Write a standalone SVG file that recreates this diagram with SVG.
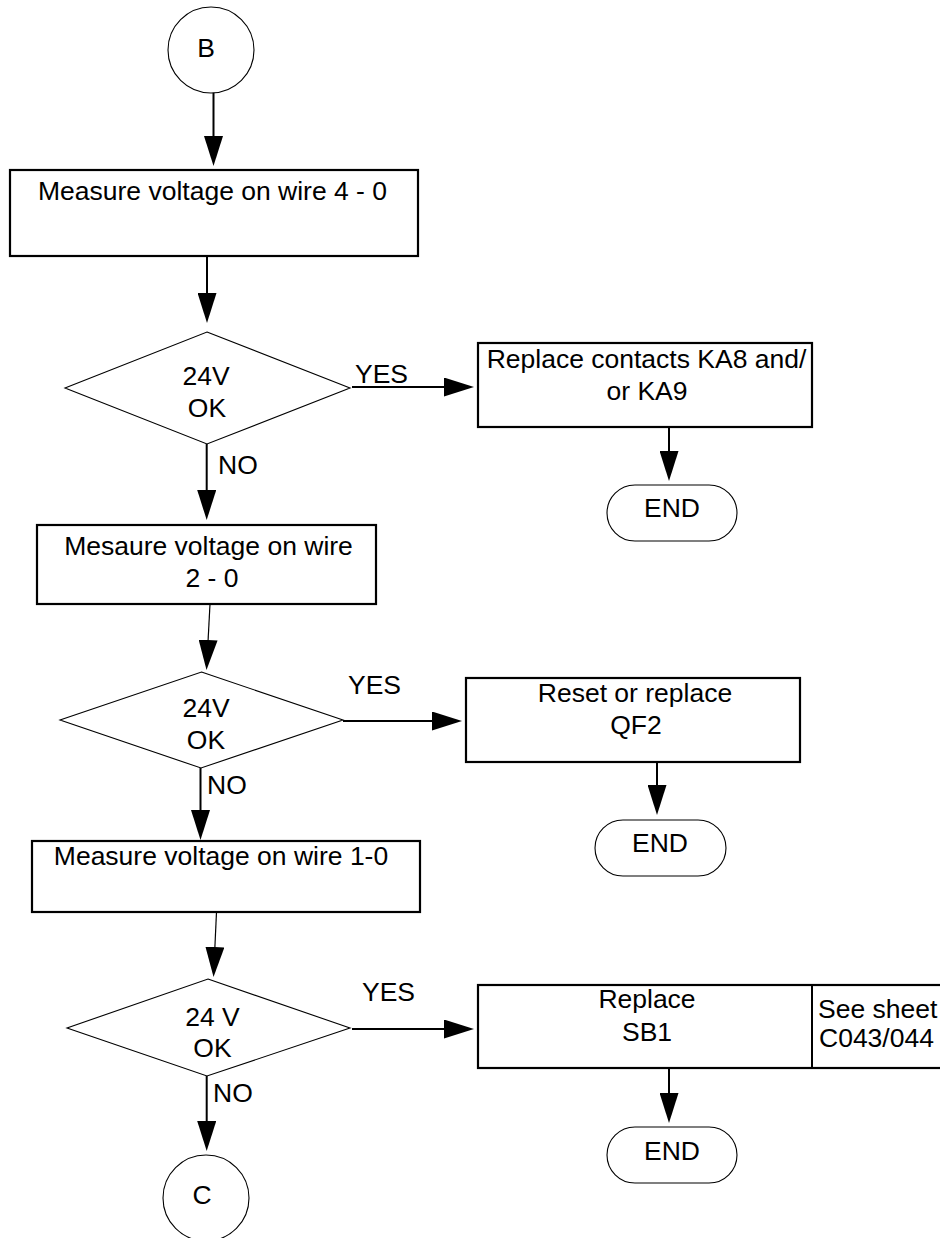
<svg xmlns="http://www.w3.org/2000/svg" width="940" height="1238" viewBox="0 0 940 1238">
<style>
text{font-family:"Liberation Sans",Arial,sans-serif;font-size:26.5px;fill:#000}
.m{text-anchor:middle}
.box{fill:#fff;stroke:#000;stroke-width:2.2}
.thin{fill:#fff;stroke:#000;stroke-width:1.1}
.c{stroke:#000;stroke-width:2;fill:none}
.c1{stroke:#000;stroke-width:1.2;fill:none}
</style>
<defs>
<marker id="ah" markerUnits="userSpaceOnUse" markerWidth="30" markerHeight="19" refX="0" refY="9.5" orient="auto" viewBox="0 0 30 19">
<path d="M0,0 L30,9.5 L0,19 z" fill="#000"/>
</marker>
</defs>
<rect width="940" height="1238" fill="#fff"/>
<g id="connectors">
<line class="c" x1="213.5" y1="92" x2="213.5" y2="136" marker-end="url(#ah)"/>
<line class="c" x1="207" y1="256" x2="207" y2="293" marker-end="url(#ah)"/>
<line class="c" x1="352" y1="387" x2="444" y2="387" marker-end="url(#ah)"/>
<line class="c" x1="669" y1="427" x2="669" y2="451" marker-end="url(#ah)"/>
<line class="c" x1="206.7" y1="444" x2="206.7" y2="490" marker-end="url(#ah)"/>
<line class="c1" x1="210" y1="604" x2="208.1" y2="640" marker-end="url(#ah)"/>
<line class="c" x1="343" y1="721" x2="432" y2="721" marker-end="url(#ah)"/>
<line class="c" x1="657" y1="762" x2="657" y2="785" marker-end="url(#ah)"/>
<line class="c" x1="200.5" y1="768" x2="200.5" y2="810" marker-end="url(#ah)"/>
<line class="c1" x1="216.5" y1="912" x2="214.9" y2="947" marker-end="url(#ah)"/>
<line class="c" x1="352" y1="1029" x2="444" y2="1029" marker-end="url(#ah)"/>
<line class="c" x1="669" y1="1068" x2="669" y2="1093" marker-end="url(#ah)"/>
<line class="c" x1="206.7" y1="1076" x2="206.7" y2="1121" marker-end="url(#ah)"/>
<text x="355" y="383">YES</text>
<text x="218" y="474">NO</text>
<text x="348" y="694">YES</text>
<text x="207" y="794">NO</text>
<text x="362" y="1001">YES</text>
<text x="213" y="1102">NO</text>
</g>
<g id="startB">
<circle class="thin" cx="211" cy="50" r="43"/>
<text class="m" x="206" y="57">B</text>
</g>
<g id="measure40">
<rect class="box" x="10" y="170" width="408" height="86"/>
<text class="m" x="212.5" y="200">Measure voltage on wire 4 - 0</text>
</g>
<g id="check1">
<polygon class="thin" points="207,332 350,388 207,444 65,388"/>
<text class="m" x="206" y="385">24V</text>
<text class="m" x="207" y="417">OK</text>
</g>
<g id="replaceKA">
<rect class="box" x="478" y="343" width="334" height="84"/>
<text class="m" x="646.5" y="368">Replace contacts KA8 and/</text>
<text class="m" x="647" y="400">or KA9</text>
</g>
<g id="end1">
<rect class="thin" x="607" y="485" width="130" height="56" rx="28" ry="28"/>
<text class="m" x="672" y="517">END</text>
</g>
<g id="measure20">
<rect class="box" x="37" y="525" width="339" height="79"/>
<text class="m" x="208.5" y="555">Mesaure voltage on wire</text>
<text class="m" x="212" y="587">2 - 0</text>
</g>
<g id="check2">
<polygon class="thin" points="201.5,672 343,720 201,768 60,720"/>
<text class="m" x="206" y="717">24V</text>
<text class="m" x="206" y="749">OK</text>
</g>
<g id="resetQF2">
<rect class="box" x="466" y="678" width="334" height="84"/>
<text class="m" x="635" y="702">Reset or replace</text>
<text class="m" x="636" y="734">QF2</text>
</g>
<g id="end2">
<rect class="thin" x="595" y="820" width="131" height="56" rx="28" ry="28"/>
<text class="m" x="660" y="852">END</text>
</g>
<g id="measure10">
<rect class="box" x="32" y="841" width="388" height="71"/>
<text class="m" x="221" y="865">Measure voltage on wire 1-0</text>
</g>
<g id="check3">
<polygon class="thin" points="208,979 350,1028 207,1076 67,1028"/>
<text class="m" x="212.5" y="1026">24 V</text>
<text class="m" x="212.5" y="1057">OK</text>
</g>
<g id="replaceSB1">
<rect class="box" x="478" y="985" width="480" height="83"/>
<line class="c" x1="812" y1="985" x2="812" y2="1068"/>
<text class="m" x="647" y="1008">Replace</text>
<text class="m" x="647" y="1041">SB1</text>
<text x="818" y="1018">See sheet</text>
<text x="819" y="1047">C043/044</text>
</g>
<g id="end3">
<rect class="thin" x="607" y="1127" width="130" height="56" rx="28" ry="28"/>
<text class="m" x="672" y="1160">END</text>
</g>
<g id="connectorC">
<circle class="thin" cx="206" cy="1198" r="43"/>
<text class="m" x="202" y="1204">C</text>
</g>
</svg>
